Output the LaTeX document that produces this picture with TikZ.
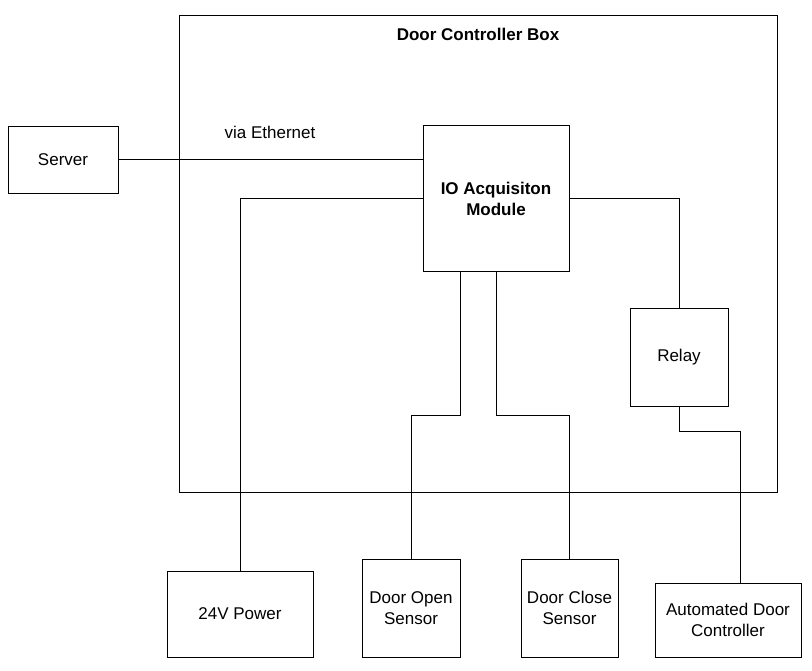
\documentclass[tikz,border=0pt]{standalone}
\usepackage{fontspec}
\setmainfont{Liberation Sans}
\usetikzlibrary{calc}

\tikzset{
	blk/.style={draw, line width=1pt, inner sep=0pt, align=center, font=\fontsize{17}{21}\selectfont},
	lbl/.style={inner sep=0pt, font=\fontsize{17}{21}\selectfont}
}

\begin{document}
\begin{tikzpicture}[x=1pt,y=-1pt,line width=1pt]

\useasboundingbox (0,0) rectangle (812,671);

\node[blk, minimum width=598pt, minimum height=476pt] (box) at (478,254) {};
\node[lbl, font=\fontsize{17}{21}\selectfont\bfseries] (boxlbl) at (478,34) {Door Controller Box};

\node[blk, minimum width=110pt, minimum height=67pt] (server) at (63,160) {Server};
\node[lbl] (eth) at (270,132) {via Ethernet};

\node[blk, minimum width=146pt, minimum height=146pt, font=\fontsize{17}{21}\selectfont\bfseries] (io) at (496,199) {IO Acquisiton\\Module};
\node[blk, minimum width=98pt, minimum height=97pt] (relay) at (679,357.5) {Relay};

\node[blk, minimum width=146pt, minimum height=86pt] (power) at (240,614) {24V Power};
\node[blk, minimum width=98pt, minimum height=98pt] (open) at (411,608) {Door Open\\Sensor};
\node[blk, minimum width=97pt, minimum height=98pt] (close) at (569.5,608) {Door Close\\Sensor};
\node[blk, minimum width=146pt, minimum height=74pt] (adc) at (728,620) {Automated Door\\Controller};

\draw (server.east) -- (server.east -| io.west);
\draw (io.west) -| (power.north);
\draw (io.east) -| (relay.north);
\draw ([xshift=-36pt]io.south) -- ++(0,143) -| (open.north);
\draw (io.south) -- ++(0,143) -| (close.north);
\draw (relay.south) -- ++(0,25) -| ([xshift=12pt]adc.north);

\end{tikzpicture}
\end{document}
